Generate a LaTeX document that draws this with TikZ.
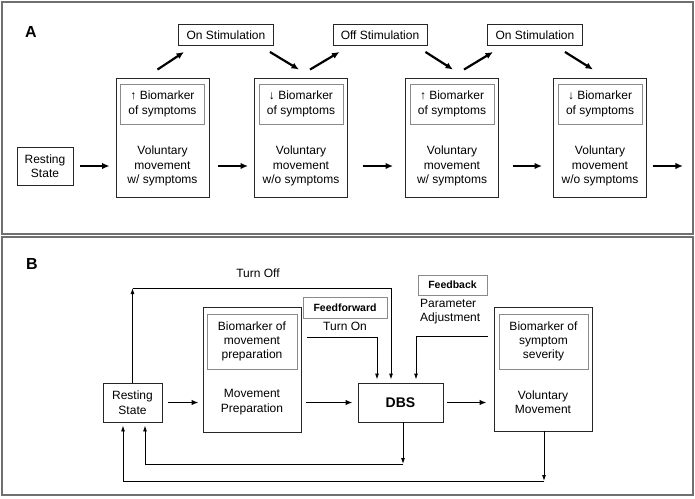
\documentclass[tikz,border=0pt]{standalone}
\usepackage{fontspec}
\setmainfont{Liberation Sans}
\usetikzlibrary{arrows.meta}
\definecolor{framegray}{HTML}{707070}
\definecolor{innergray}{HTML}{8A8A8A}
\begin{document}
\begin{tikzpicture}[x=1pt,y=-1pt,
		font=\fontsize{12}{14.5}\selectfont,
		outer/.style={draw=black!85, line width=.9pt, inner sep=0pt},
		inner/.style={draw=innergray, line width=.9pt, inner sep=0pt, align=center},
		plain/.style={align=center, inner sep=0pt},
		fat/.style={line width=2.2pt, -{Latex[length=7.5pt,width=6.5pt]}},
		link/.style={line width=.9pt, -{Latex[length=6pt,width=4pt]}},
		mid/.style={line width=1.6pt, -{Latex[length=7pt,width=5.5pt]}}]
		\useasboundingbox (0,0) rectangle (695,498);
		% the two panels
		\draw[framegray, line width=1.2pt] (2,2) rectangle (693,234);
		\draw[framegray, line width=1.2pt] (2,237) rectangle (693,495);
		\node[font=\fontsize{16}{16}\bfseries\selectfont] at (31,32) {A};
		\node[font=\fontsize{16}{16}\bfseries\selectfont] at (32,264) {B};

		% panel A
		\node[outer, minimum width=56pt, minimum height=38pt, align=center] (restA) at (45,166) {Resting\\State};
		\foreach \n/\x/\arr/\txt in {s1/162.5/↑/w\slash{} symptoms, s2/301/↓/w\slash o symptoms, s3/452/↑/w\slash{} symptoms, s4/600/↓/w\slash o symptoms} {
			\node[outer, minimum width=93pt, minimum height=119pt] (\n) at (\x,137.5) {};
			\node[inner, minimum width=84pt, minimum height=40pt] (\n m) at (\x,104) {\arr{} Biomarker\\of symptoms};
			\node[plain] (\n t) at (\x,166) {Voluntary\\movement\\\txt};
		}
		\node[outer, minimum width=95pt, minimum height=21pt] (on1) at (226,35) {On Stimulation};
		\node[outer, minimum width=94pt, minimum height=21pt] (off) at (380,35) {Off Stimulation};
		\node[outer, minimum width=95pt, minimum height=21pt] (on2) at (535,35) {On Stimulation};

		\draw[fat] ([xshift=7pt]restA.east) -- ([xshift=-6pt]restA.east -| s1.west);
		\draw[fat] ([xshift=9pt]s1t -| s1.east) -- ([xshift=-6pt]s1t -| s2.west);
		\draw[fat] ([xshift=15pt]s2t -| s2.east) -- ([xshift=-12pt]s2t -| s3.west);
		\draw[fat] ([xshift=14pt]s3t -| s3.east) -- ([xshift=-11pt]s3t -| s4.west);
		\draw[fat] ([xshift=6pt]s4t -| s4.east) -- ++(30,0);

		\draw[fat] ([shift={(-5,-8)}]s1.north) -- ([shift={(6,6)}]on1.south west);
		\draw[fat] ([shift={(-4,6)}]on1.south east) -- ([shift={(-2,-8)}]s2.north);
		\draw[fat] ([shift={(9,-8)}]s2.north) -- ([shift={(7,6)}]off.south west);
		\draw[fat] ([shift={(-2,6)}]off.south east) -- ([shift={(1,-8)}]s3.north);
		\draw[fat] ([shift={(12,-8)}]s3.north) -- ([shift={(6,6)}]on2.south west);
		\draw[fat] ([shift={(-18,6)}]on2.south east) -- ([shift={(-7,-8)}]s4.north);

		% panel B
		\node[outer, minimum width=59pt, minimum height=39pt, align=center] (restB) at (132.5,402.5) {Resting\\State};
		\node[outer, minimum width=98pt, minimum height=125pt] (prep) at (252,369.5) {};
		\node[inner, minimum width=90pt, minimum height=55pt, font=\fontsize{12}{14}\selectfont] (prepm) at (252,341.5) {Biomarker of\\movement\\preparation};
		\node[plain] (prept) at (252,402) {Movement\\Preparation};
		\node[outer, minimum width=85pt, minimum height=39pt, font=\fontsize{14}{14}\bfseries\selectfont] (dbs) at (400.5,402.5) {DBS};
		\node[outer, minimum width=98pt, minimum height=124pt] (vol) at (543,369) {};
		\node[inner, minimum width=89pt, minimum height=55pt, font=\fontsize{12}{14}\selectfont] (volm) at (543.5,341.5) {Biomarker of\\symptom\\severity};
		\node[plain] (volt) at (543,402) {Voluntary\\Movement};

		\node[inner, minimum width=84pt, minimum height=21pt, font=\fontsize{10.5}{12}\bfseries\selectfont] (ff) at (345,307.5) {Feedforward};
		\node[inner, minimum width=69pt, minimum height=20pt, font=\fontsize{10.5}{12}\bfseries\selectfont] (fb) at (452.5,285) {Feedback};
		\node[plain] (turnoff) at (258,273) {Turn Off};
		\node[plain] (turnon) at (345,326) {Turn On};
		\node[plain, align=left, anchor=west] (param) at (420,311.5) {Parameter\\Adjustment};

		\draw[mid, shorten <=6pt, shorten >=4pt] (restB.east) -- (restB -| prep.west);
		\draw[mid, shorten <=5pt, shorten >=5pt] (dbs -| prep.east) -- (dbs.west);
		\draw[mid, shorten <=4pt, shorten >=7pt] (dbs.east) -- (dbs -| vol.west);

		\coordinate (toff) at (132.5,288);
		\draw[link] (restB.north) -- (toff);
		\draw[link, shorten >=3pt] (toff) -| ([xshift=-9.5pt]dbs.north);
		\draw[link, shorten >=3pt] ([shift={(6,-32.5)}]prep.east) -| ([xshift=-23.5pt]dbs.north);
		\draw[link, shorten >=3pt] ([shift={(-6,-33)}]vol.west) -| ([xshift=15.5pt]dbs.north);

		\coordinate (bend1) at (403,464);
		\coordinate (bend2) at (544,481);
		\draw[link] ([xshift=2.5pt]dbs.south) -- (bend1);
		\draw[link, shorten >=3pt] (bend1) -| ([xshift=12.5pt]restB.south);
		\draw[link] ([xshift=1pt]vol.south) -- (bend2);
		\draw[link, shorten >=3pt] (bend2) -| ([xshift=-9.5pt]restB.south);
	\end{tikzpicture}
\end{document}
